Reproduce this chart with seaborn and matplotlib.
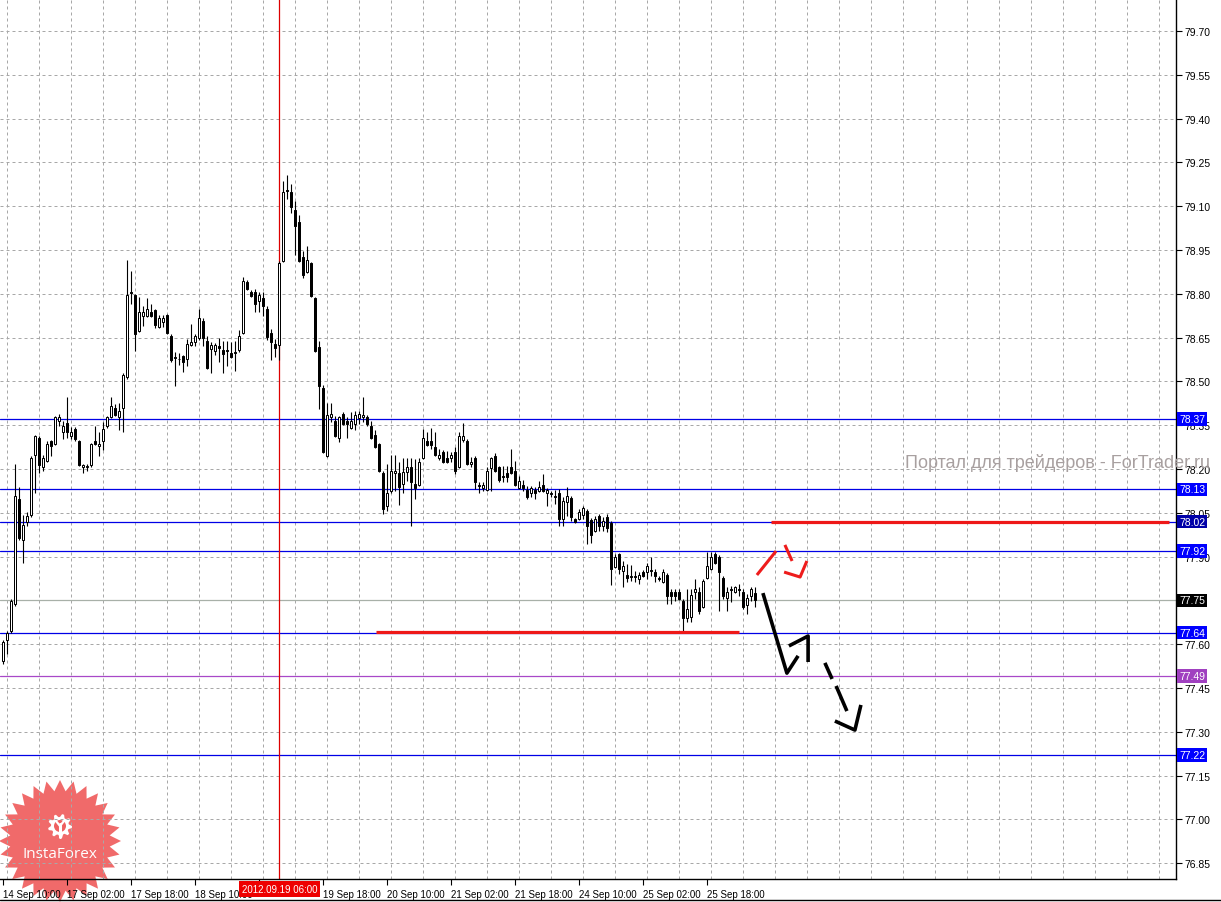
import numpy as np
import pandas as pd
import seaborn as sns
import matplotlib.pyplot as plt
from matplotlib.patches import Polygon, Circle

# H1 свечи, 14 Sep 10:00 ... 26 Sep
opens = [
    77.543, 77.614, 77.645, 77.738, 78.097, 77.957, 78.019, 78.042, 78.248, 78.306,
    78.207, 78.227, 78.296, 78.286, 78.364, 78.327, 78.357, 78.313, 78.337, 78.296,
    78.207, 78.207, 78.214, 78.296, 78.279, 78.296, 78.347, 78.378, 78.409, 78.378,
    78.409, 78.515, 78.806, 78.796, 78.673, 78.724, 78.724, 78.738, 78.745, 78.686,
    78.703, 78.727, 78.656, 78.584, 78.577, 78.587, 78.577, 78.625, 78.635, 78.649,
    78.707, 78.638, 78.611, 78.604, 78.621, 78.608, 78.608, 78.597, 78.601, 78.608,
    78.666, 78.840, 78.806, 78.806, 78.775, 78.786, 78.748, 78.666, 78.628, 78.625,
    78.912, 79.155, 79.149, 79.087, 79.046, 78.926, 78.875, 78.905, 78.786, 78.618,
    78.477, 78.245, 78.378, 78.364, 78.306, 78.388, 78.364, 78.340, 78.354, 78.375,
    78.378, 78.378, 78.347, 78.316, 78.286, 78.186, 78.073, 78.125, 78.187, 78.186,
    78.149, 78.190, 78.207, 78.149, 78.145, 78.238, 78.296, 78.296, 78.275, 78.238,
    78.258, 78.238, 78.238, 78.258, 78.207, 78.299, 78.296, 78.217, 78.238, 78.145,
    78.135, 78.128, 78.203, 78.245, 78.207, 78.176, 78.186, 78.207, 78.193, 78.135,
    78.145, 78.128, 78.118, 78.128, 78.125, 78.145, 78.118, 78.118, 78.108, 78.118,
    78.029, 78.087, 78.101, 78.029, 78.029, 78.042, 78.056, 78.025, 77.988, 78.039,
    78.005, 78.036, 78.015, 77.864, 77.909, 77.851, 77.837, 77.834, 77.834, 77.823,
    77.847, 77.847, 77.854, 77.847, 77.827, 77.813, 77.837, 77.779, 77.779, 77.779,
    77.748, 77.690, 77.693, 77.779, 77.779, 77.727, 77.827, 77.858, 77.909, 77.899,
    77.827, 77.758, 77.789, 77.779, 77.789, 77.779, 77.734, 77.765, 77.775,
]
highs = [
    77.614, 77.645, 77.755, 78.217, 78.138, 78.042, 78.053, 78.245, 78.317, 78.313,
    78.248, 78.296, 78.299, 78.381, 78.388, 78.364, 78.447, 78.344, 78.344, 78.299,
    78.217, 78.217, 78.289, 78.347, 78.327, 78.361, 78.381, 78.447, 78.423, 78.426,
    78.529, 78.916, 78.878, 78.799, 78.789, 78.758, 78.786, 78.765, 78.748, 78.727,
    78.727, 78.731, 78.662, 78.601, 78.597, 78.590, 78.645, 78.697, 78.662, 78.748,
    78.717, 78.656, 78.635, 78.632, 78.649, 78.638, 78.638, 78.635, 78.638, 78.676,
    78.858, 78.847, 78.813, 78.816, 78.806, 78.806, 78.758, 78.679, 78.645, 78.912,
    79.186, 79.207, 79.176, 79.118, 79.070, 78.947, 78.964, 78.909, 78.789, 78.638,
    78.488, 78.426, 78.426, 78.381, 78.381, 78.395, 78.378, 78.395, 78.399, 78.399,
    78.447, 78.385, 78.364, 78.333, 78.289, 78.193, 78.217, 78.248, 78.248, 78.224,
    78.238, 78.238, 78.238, 78.234, 78.238, 78.337, 78.327, 78.340, 78.327, 78.268,
    78.265, 78.262, 78.258, 78.275, 78.327, 78.357, 78.303, 78.241, 78.245, 78.155,
    78.155, 78.207, 78.241, 78.255, 78.210, 78.210, 78.210, 78.268, 78.227, 78.176,
    78.162, 78.142, 78.142, 78.138, 78.159, 78.183, 78.135, 78.125, 78.128, 78.132,
    78.104, 78.138, 78.108, 78.032, 78.063, 78.073, 78.063, 78.032, 78.039, 78.046,
    78.036, 78.046, 78.022, 77.909, 77.912, 77.885, 77.875, 77.871, 77.851, 77.847,
    77.854, 77.878, 77.899, 77.858, 77.834, 77.858, 77.844, 77.789, 77.789, 77.789,
    77.755, 77.789, 77.789, 77.823, 77.796, 77.823, 77.916, 77.916, 77.916, 77.906,
    77.834, 77.796, 77.799, 77.799, 77.806, 77.789, 77.772, 77.796, 77.796,
]
lows = [
    77.532, 77.566, 77.638, 77.731, 77.957, 77.878, 78.005, 78.036, 78.118, 78.186,
    78.193, 78.224, 78.245, 78.282, 78.347, 78.303, 78.306, 78.303, 78.296, 78.210,
    78.186, 78.193, 78.207, 78.282, 78.245, 78.265, 78.340, 78.375, 78.381, 78.333,
    78.327, 78.508, 78.765, 78.604, 78.669, 78.690, 78.721, 78.721, 78.683, 78.683,
    78.686, 78.662, 78.566, 78.484, 78.556, 78.532, 78.553, 78.621, 78.621, 78.642,
    78.621, 78.542, 78.529, 78.590, 78.566, 78.529, 78.553, 78.580, 78.536, 78.601,
    78.662, 78.813, 78.789, 78.738, 78.738, 78.724, 78.642, 78.573, 78.584, 78.573,
    78.909, 79.125, 79.077, 78.933, 78.909, 78.854, 78.871, 78.789, 78.601, 78.405,
    78.255, 78.241, 78.361, 78.310, 78.292, 78.351, 78.306, 78.337, 78.333, 78.354,
    78.361, 78.347, 78.303, 78.272, 78.190, 78.046, 78.056, 78.118, 78.125, 78.077,
    78.118, 78.159, 78.005, 78.097, 78.142, 78.234, 78.279, 78.268, 78.245, 78.231,
    78.221, 78.221, 78.224, 78.183, 78.203, 78.292, 78.214, 78.207, 78.132, 78.118,
    78.125, 78.125, 78.125, 78.190, 78.155, 78.155, 78.155, 78.183, 78.142, 78.132,
    78.125, 78.097, 78.104, 78.097, 78.121, 78.121, 78.073, 78.104, 78.080, 78.005,
    78.005, 78.039, 78.022, 78.016, 78.025, 78.029, 77.943, 77.947, 77.985, 77.988,
    77.988, 77.985, 77.803, 77.861, 77.840, 77.796, 77.813, 77.816, 77.813, 77.806,
    77.830, 77.823, 77.834, 77.813, 77.816, 77.810, 77.738, 77.738, 77.748, 77.751,
    77.645, 77.676, 77.676, 77.755, 77.703, 77.724, 77.823, 77.854, 77.875, 77.714,
    77.755, 77.714, 77.745, 77.775, 77.765, 77.721, 77.703, 77.748, 77.727,
]
closes = [
    77.608, 77.638, 77.748, 78.108, 77.964, 78.008, 78.039, 78.238, 78.313, 78.214,
    78.238, 78.286, 78.279, 78.378, 78.378, 78.347, 78.327, 78.327, 78.303, 78.214,
    78.214, 78.210, 78.286, 78.286, 78.286, 78.337, 78.378, 78.416, 78.385, 78.399,
    78.522, 78.796, 78.803, 78.662, 78.738, 78.738, 78.748, 78.724, 78.693, 78.717,
    78.717, 78.666, 78.573, 78.580, 78.578, 78.566, 78.628, 78.635, 78.656, 78.717,
    78.649, 78.546, 78.625, 78.625, 78.614, 78.594, 78.604, 78.584, 78.597, 78.656,
    78.844, 78.816, 78.792, 78.765, 78.796, 78.758, 78.652, 78.635, 78.614, 78.905,
    79.149, 79.152, 79.097, 79.032, 78.912, 78.864, 78.916, 78.792, 78.604, 78.484,
    78.258, 78.385, 78.388, 78.313, 78.378, 78.354, 78.354, 78.364, 78.385, 78.388,
    78.385, 78.354, 78.306, 78.275, 78.193, 78.063, 78.118, 78.193, 78.193, 78.138,
    78.190, 78.207, 78.155, 78.135, 78.224, 78.306, 78.282, 78.282, 78.248, 78.248,
    78.224, 78.224, 78.248, 78.193, 78.313, 78.313, 78.217, 78.224, 78.155, 78.142,
    78.145, 78.193, 78.238, 78.193, 78.162, 78.173, 78.173, 78.186, 78.145, 78.159,
    78.135, 78.104, 78.135, 78.118, 78.138, 78.125, 78.128, 78.114, 78.104, 78.029,
    78.090, 78.108, 78.036, 78.019, 78.053, 78.066, 78.005, 77.974, 78.029, 78.005,
    78.022, 77.998, 77.858, 77.899, 77.858, 77.868, 77.827, 77.830, 77.830, 77.837,
    77.834, 77.868, 77.851, 77.834, 77.823, 77.847, 77.765, 77.765, 77.765, 77.755,
    77.690, 77.721, 77.768, 77.789, 77.714, 77.816, 77.868, 77.899, 77.878, 77.847,
    77.765, 77.779, 77.786, 77.796, 77.786, 77.727, 77.758, 77.789, 77.750,
]

time_label_bars = [0, 16, 32, 48, 64, 80, 96, 112, 128, 144, 160, 176]
time_labels = ["14 Sep 10:00", "17 Sep 02:00", "17 Sep 18:00", "18 Sep 10:00",
               "", "19 Sep 18:00", "20 Sep 10:00", "21 Sep 02:00",
               "21 Sep 18:00", "24 Sep 10:00", "25 Sep 02:00", "25 Sep 18:00"]
cursor_bar = 69
cursor_label = "2012.09.19 06:00"

price_ticks = [79.70, 79.55, 79.40, 79.25, 79.10, 78.95, 78.80, 78.65, 78.50, 78.35,
               78.20, 78.05, 77.90, 77.75, 77.60, 77.45, 77.30, 77.15, 77.00, 76.85]

level_prices = [78.37, 78.13, 78.02, 77.92, 77.75, 77.64, 77.49, 77.22]
level_colors = ["#0000e6", "#0000e6", "#0000e6", "#0000e6", "#a8b0a8", "#0000e6", "#a848c8", "#0000e6"]
level_box_colors = ["#0000ff", "#0000ff", "#0000a8", "#0000ff", "#000000", "#0000ff", "#a040c0", "#0000ff"]

# толстые красные уровни: (цена, бар от, бар до)
red_levels = [(78.02, 191.9, 291.4), (77.642, 93.2, 183.9)]

# прогнозные стрелки (бар, цена)
red_arrow_x = [[188.4, 193.2], [195.4, 197.2], [195.2, 199.2, 200.9]]
red_arrow_y = [[77.837, 77.919], [77.940, 77.885], [77.847, 77.830, 77.885]]
black_arrow_x = [[189.9, 195.9, 198.7], [196.4, 201.2, 201.2], [205.4, 207.2],
                 [208.2, 210.9], [207.9, 212.9, 214.4]]
black_arrow_y = [[77.775, 77.501, 77.560], [77.594, 77.628, 77.539], [77.536, 77.481],
                 [77.457, 77.371], [77.337, 77.306, 77.392]]

sns.set_style("white")
plt.rcParams['font.family'] = ['Liberation Sans', 'DejaVu Sans']

df = pd.DataFrame({"open": opens, "high": highs, "low": lows, "close": closes})
df["bar"] = np.arange(len(df))
df["up"] = df["close"] >= df["open"]

W, H = 1221, 903
fig = plt.figure(figsize=(W / 100, H / 100), dpi=100, facecolor="white")

# фон для логотипа
bg = fig.add_axes([0, 0, 1, 1], zorder=0)
bg.set_xlim(0, W)
bg.set_ylim(H, 0)
bg.axis("off")

ax = fig.add_axes([0, 23 / H, 1176 / W, 880 / H], zorder=1)
ax.set_facecolor("none")
ax.set_xlim(-3.3 / 4, (1176 - 3.3) / 4)
ax.set_ylim(79.70 - 848 / 292, 79.70 + 32 / 292)

for s in ["left", "top"]:
    ax.spines[s].set_visible(False)
for s in ["right", "bottom"]:
    ax.spines[s].set_color("black")
    ax.spines[s].set_linewidth(1.0)

# сетка
grid_kw = dict(color="#a8a8a8", lw=0.72, linestyle=(0, (3, 3)), zorder=0.5)
for gx in range(1, 294, 8):
    ax.axvline(gx, **grid_kw)
for gy in price_ticks:
    ax.axhline(gy, **grid_kw)

# метки шкалы цен; 77.75 целиком закрыта ярлыком Bid
covered = set(f"{p:.2f}" for p in level_prices)
ax.yaxis.tick_right()
ax.set_yticks(price_ticks)
ax.set_yticklabels(["" if f"{p:.2f}" in covered else f"{p:.2f}" for p in price_ticks])
ax.tick_params(axis="y", length=4, width=0.8, pad=2, labelsize=7.5, colors="black", right=True)
ax.set_xticks(time_label_bars)
ax.set_xticklabels(time_labels, ha="left")
ax.tick_params(axis="x", length=4, width=0.8, pad=3, labelsize=7, colors="black", bottom=True)
ax.grid(False)

# уровни
for p, c in zip(level_prices, level_colors):
    ax.axhline(p, color=c, lw=0.9, zorder=1)
for p, x0, x1 in red_levels:
    ax.hlines(p, x0, x1, color="#ee1818", lw=2.3, zorder=4)

ax.axvline(cursor_bar, color="#dd0000", lw=0.9, zorder=1)

# свечи
ax.vlines(df["bar"], df["low"], df["high"], color="black", lw=0.8, zorder=2)
body_bottom = df[["open", "close"]].min(axis=1)
body_h = (df["close"] - df["open"]).abs().clip(lower=0.0012)
ax.bar(df["bar"], body_h, bottom=body_bottom, width=0.5,
       color=np.where(df["up"], "white", "black"), edgecolor="black",
       linewidth=0.72, zorder=3)

# стрелки
for xs, ys in zip(red_arrow_x, red_arrow_y):
    ax.plot(xs, ys, color="#ee1c1c", lw=2.2, solid_capstyle="butt", zorder=5)
for xs, ys in zip(black_arrow_x, black_arrow_y):
    ax.plot(xs, ys, color="black", lw=2.6, solid_capstyle="butt", zorder=5)

# ярлыки уровней на шкале
ytr = ax.get_yaxis_transform()
for p, bc in zip(level_prices, level_box_colors):
    ax.text(1.0025, p, f"{p:.2f}", transform=ytr, ha="left", va="center",
            fontsize=7.5, color="white", clip_on=False, zorder=10,
            bbox=dict(boxstyle="square,pad=0.18", fc=bc, ec="none"))

xtr = ax.get_xaxis_transform()
ax.text(cursor_bar, -0.0118, cursor_label, transform=xtr, ha="center", va="center",
        fontsize=7, color="white", clip_on=False, zorder=10,
        bbox=dict(boxstyle="square,pad=0.3", fc="#ee0000", ec="none"))

# логотип InstaForex
cx, cy, n = 60, 842, 28
ang = np.linspace(0, 2 * np.pi, 2 * n, endpoint=False) - np.pi / 2
rad = np.where(np.arange(2 * n) % 2 == 0, 61, 50)
star = np.column_stack([cx + rad * np.cos(ang), cy + rad * np.sin(ang)])
bg.add_patch(Polygon(star, closed=True, fc="#ee5050", ec="none", alpha=0.85, zorder=1))
gx, gy, t = 60, 827, 9
ga = np.linspace(0, 2 * np.pi, 4 * t, endpoint=False)
gr = np.where((np.arange(4 * t) // 2) % 2 == 0, 12, 9)
gear = np.column_stack([gx + gr * np.cos(ga), gy + gr * np.sin(ga)])
bg.add_patch(Polygon(gear, closed=True, fc="white", ec="none", zorder=2))
bg.add_patch(Circle((gx, gy), 6, fc="#ef6060", ec="none", zorder=3))
bg.plot([gx, gx], [gy - 2, gy + 11], color="white", lw=2.2, zorder=4)
bg.plot([gx - 4, gx, gx + 4], [gy - 5, gy, gy - 5], color="white", lw=1.6, zorder=4)
bg.text(60, 855, "InstaForex", ha="center", va="center", fontsize=11,
        color="white", family=["Open Sans", "DejaVu Sans"], zorder=5)
bg.plot([0, W], [901.5, 901.5], color="black", lw=1.0, zorder=1)

fig.text(905 / W, 1 - 463 / H, "Портал для трейдеров - ForTrader.ru",
         ha="left", va="center", fontsize=13, color="#a8a0a0", zorder=20)

fig.savefig("out.png", dpi=100, facecolor="white")
